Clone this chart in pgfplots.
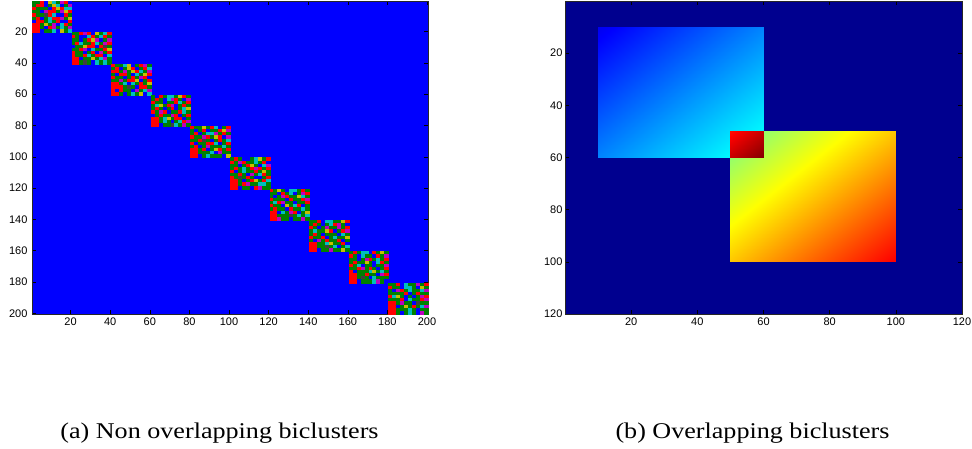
\documentclass[border=0pt]{standalone}
\usepackage{fontspec}
\setmainfont{Liberation Serif}
\newfontfamily\ticksans{Liberation Sans}
\usepackage{pgfplots}
\usepgfplotslibrary{patchplots}
\pgfplotsset{compat=1.18}
\definecolor{jetfloor}{RGB}{0,0,143}
\definecolor{cblue}{RGB}{0,0,255}
\definecolor{cgreen}{RGB}{0,128,0}
\definecolor{cred}{RGB}{255,0,0}
\definecolor{ccyan}{RGB}{0,191,191}
\definecolor{cmag}{RGB}{191,0,191}
\definecolor{cyel}{RGB}{200,190,0}
\definecolor{cgray}{RGB}{64,64,64}

\pgfplotsset{
  % one 20x20 bicluster stored as 10x10 cells of 2x2, listed row by row
  table/blk/.style={header=false, row sep=\\, meta index=0,
    x expr={#1+1.5+2*mod(\coordindex,10)},
    y expr={#1+1.5+2*floor(\coordindex/10)}},
  % each cell is a filled 2x2 square in data units (3.96pt x 3.13pt)
  blk/.style={scatter, only marks, mark=square*, mark size=1.565pt,
    point meta=explicit symbolic,
    mark options={xscale=1.265, line width=0.2pt},
    scatter/classes={
      0={cblue}, 1={cgreen}, 2={cred}, 3={ccyan},
      4={cmag}, 5={cyel}, 6={cgray}}},
  heat/.style={scale only axis, height=313pt, y dir=reverse,
    enlargelimits=false, axis on top,
    tick align=inside, major tick length=4pt,
    tick style={black, line width=0.4pt},
    axis line style={black!85, line width=0.6pt},
    tick label style={font=\ticksans\fontsize{11}{12}\selectfont},
    /pgf/number format/assume math mode=true},
}

\begin{document}
\begin{tikzpicture}
\useasboundingbox (0,0) rectangle (972pt,-449pt);

% (a) ten disjoint biclusters on the diagonal
\begin{axis}[heat, at={(32pt,-1pt)}, anchor=north west, width=396pt,
  xmin=0.5, xmax=200.5, ymin=0.5, ymax=200.5,
  xtick={20,40,...,200}, ytick={20,40,...,200},
  yticklabel style={xshift=-1pt},
  axis background/.style={fill=blue}]
\addplot[blk] table[blk=0]{
1\\1\\2\\0\\5\\3\\1\\4\\2\\0\\
1\\2\\2\\0\\1\\5\\3\\0\\1\\4\\
2\\1\\1\\1\\0\\2\\5\\2\\3\\3\\
1\\1\\0\\4\\2\\2\\1\\4\\5\\2\\
2\\1\\1\\6\\2\\3\\0\\0\\2\\1\\
1\\2\\0\\1\\3\\2\\2\\4\\1\\5\\
0\\2\\2\\1\\3\\1\\2\\0\\0\\2\\
2\\2\\1\\5\\1\\4\\0\\3\\2\\1\\
2\\2\\1\\0\\2\\4\\1\\3\\1\\4\\
2\\2\\0\\1\\1\\3\\0\\5\\1\\3\\
};
\addplot[blk] table[blk=20]{
1\\1\\2\\4\\2\\0\\5\\1\\3\\2\\
2\\1\\0\\0\\3\\2\\1\\3\\2\\1\\
1\\1\\0\\1\\2\\5\\4\\0\\1\\4\\
1\\2\\3\\1\\1\\2\\3\\1\\4\\2\\
0\\1\\1\\5\\2\\2\\0\\2\\6\\1\\
1\\1\\2\\4\\0\\3\\1\\1\\2\\5\\
2\\1\\1\\0\\1\\2\\0\\4\\1\\2\\
2\\1\\1\\2\\3\\1\\2\\2\\0\\3\\
2\\2\\0\\1\\1\\5\\1\\3\\4\\1\\
2\\2\\1\\6\\1\\0\\3\\1\\3\\1\\
};
\addplot[blk] table[blk=40]{
2\\1\\1\\3\\5\\0\\1\\2\\4\\1\\
1\\2\\0\\1\\5\\2\\0\\1\\2\\3\\
2\\2\\1\\4\\1\\5\\2\\3\\1\\4\\
1\\0\\2\\2\\1\\0\\3\\1\\5\\2\\
2\\1\\1\\0\\1\\2\\1\\4\\2\\0\\
1\\1\\4\\1\\2\\2\\5\\0\\1\\2\\
2\\2\\1\\3\\0\\3\\1\\2\\1\\5\\
2\\2\\2\\1\\6\\1\\0\\2\\2\\1\\
2\\0\\2\\1\\1\\0\\4\\1\\3\\4\\
2\\2\\1\\0\\1\\3\\1\\5\\0\\3\\
};
\addplot[blk] table[blk=60]{
1\\0\\2\\1\\3\\3\\1\\5\\2\\1\\
1\\2\\1\\0\\3\\4\\2\\1\\0\\4\\
2\\1\\1\\0\\1\\1\\2\\3\\1\\2\\
1\\3\\5\\1\\2\\4\\0\\1\\2\\1\\
1\\2\\1\\0\\1\\2\\0\\1\\3\\5\\
2\\1\\4\\2\\0\\1\\1\\2\\3\\1\\
0\\1\\2\\1\\1\\4\\2\\0\\1\\2\\
2\\2\\1\\3\\5\\1\\2\\2\\0\\1\\
2\\2\\1\\3\\1\\0\\1\\3\\2\\4\\
2\\2\\0\\1\\1\\6\\3\\1\\4\\1\\
};
\addplot[blk] table[blk=80]{
2\\1\\1\\5\\1\\2\\3\\0\\1\\2\\
1\\0\\1\\2\\0\\1\\1\\2\\5\\4\\
1\\2\\0\\1\\3\\3\\4\\1\\2\\1\\
2\\1\\1\\4\\2\\1\\5\\2\\0\\4\\
1\\1\\2\\6\\1\\0\\1\\2\\1\\3\\
2\\0\\1\\1\\2\\2\\3\\0\\1\\2\\
1\\2\\0\\1\\4\\1\\1\\1\\3\\1\\
2\\2\\1\\2\\0\\1\\5\\2\\1\\2\\
2\\2\\1\\1\\1\\3\\0\\4\\1\\1\\
2\\2\\0\\1\\3\\1\\1\\1\\0\\5\\
};
\addplot[blk] table[blk=100]{
1\\2\\1\\0\\0\\1\\3\\5\\1\\2\\
2\\1\\4\\2\\1\\1\\3\\1\\2\\0\\
1\\1\\0\\1\\2\\5\\1\\0\\3\\4\\
1\\2\\1\\3\\1\\2\\4\\2\\1\\2\\
2\\0\\1\\3\\1\\1\\2\\1\\5\\1\\
1\\1\\2\\1\\0\\4\\1\\3\\2\\1\\
2\\1\\6\\1\\2\\1\\0\\0\\1\\2\\
2\\2\\1\\0\\1\\2\\5\\1\\2\\3\\
2\\2\\1\\2\\4\\1\\1\\3\\3\\1\\
2\\2\\0\\1\\1\\0\\2\\4\\1\\1\\
};
\addplot[blk] table[blk=120]{
2\\1\\5\\1\\0\\3\\3\\1\\2\\1\\
1\\1\\0\\2\\1\\3\\0\\1\\4\\2\\
1\\0\\1\\4\\2\\1\\1\\5\\3\\1\\
2\\1\\1\\1\\0\\2\\1\\1\\2\\4\\
1\\3\\2\\4\\1\\1\\0\\1\\1\\2\\
2\\1\\1\\0\\5\\1\\3\\2\\0\\1\\
1\\2\\1\\1\\0\\2\\1\\1\\3\\1\\
2\\2\\0\\3\\1\\4\\2\\0\\1\\5\\
2\\2\\1\\1\\1\\6\\1\\3\\1\\3\\
2\\2\\4\\1\\1\\0\\1\\1\\4\\1\\
};
\addplot[blk] table[blk=140]{
1\\1\\2\\0\\3\\3\\1\\1\\5\\2\\
1\\2\\1\\0\\1\\3\\2\\4\\1\\0\\
2\\1\\0\\1\\4\\1\\1\\4\\1\\2\\
1\\3\\1\\1\\5\\2\\0\\1\\2\\4\\
1\\2\\1\\0\\1\\1\\1\\0\\3\\1\\
2\\1\\1\\2\\0\\1\\3\\1\\1\\5\\
1\\0\\4\\1\\2\\1\\1\\2\\0\\1\\
2\\2\\1\\1\\3\\5\\1\\1\\2\\0\\
2\\2\\1\\1\\6\\1\\3\\0\\1\\3\\
2\\2\\0\\1\\1\\4\\1\\1\\5\\1\\
};
\addplot[blk] table[blk=160]{
1\\2\\1\\3\\3\\0\\2\\1\\5\\1\\
2\\1\\0\\3\\1\\1\\0\\2\\1\\4\\
1\\1\\0\\1\\4\\2\\1\\3\\1\\2\\
1\\2\\1\\1\\5\\1\\0\\3\\2\\1\\
2\\1\\3\\0\\1\\1\\0\\1\\1\\4\\
1\\1\\2\\4\\1\\2\\1\\0\\1\\2\\
2\\0\\1\\1\\1\\3\\5\\1\\3\\1\\
2\\2\\1\\1\\2\\1\\1\\0\\4\\2\\
2\\2\\1\\6\\1\\0\\3\\1\\1\\1\\
2\\2\\0\\1\\1\\1\\3\\4\\1\\0\\
};
\addplot[blk] table[blk=180]{
1\\1\\2\\0\\3\\1\\1\\4\\1\\2\\
2\\1\\1\\0\\3\\3\\1\\0\\5\\1\\
1\\0\\4\\2\\1\\3\\1\\1\\3\\4\\
1\\1\\1\\1\\2\\0\\1\\2\\1\\1\\
2\\3\\5\\1\\0\\1\\0\\1\\4\\2\\
1\\1\\1\\2\\0\\3\\1\\1\\2\\4\\
2\\2\\1\\4\\1\\1\\0\\6\\1\\1\\
2\\2\\0\\1\\5\\1\\2\\1\\3\\4\\
2\\2\\1\\1\\1\\3\\1\\0\\1\\1\\
2\\2\\1\\0\\1\\3\\1\\0\\4\\1\\
};
\end{axis}

% (b) two biclusters sharing a 10x10 corner, jet colouring
\begin{axis}[heat, at={(565pt,-1pt)}, anchor=north west, width=397pt,
  xmin=0, xmax=120, ymin=0, ymax=120,
  xtick={20,40,...,120}, ytick={20,40,...,120},
  yticklabel style={xshift=1pt},
  axis background/.style={fill=jetfloor},
  colormap/jet, point meta min=0, point meta max=1]
\addplot[patch, patch type=rectangle, shader=interp, point meta=explicit]
  table[meta=c]{
x y c
10 10 0.11
60 10 0.255
60 60 0.40
10 60 0.255
};
\addplot[patch, patch type=rectangle, shader=interp, point meta=explicit]
  table[meta=c]{
x y c
50 50 0.48
100 50 0.68
100 100 0.88
50 100 0.68
};
\addplot[patch, patch type=rectangle, shader=interp, point meta=explicit]
  table[meta=c]{
x y c
50 50 0.86
60 50 0.93
60 60 1.00
50 60 0.93
};
\end{axis}

\node[anchor=base, xscale=1.16, font=\fontsize{22.5}{27}\selectfont]
  at (219.5pt,-438.5pt) {(a) Non overlapping biclusters};
\node[anchor=base, xscale=1.16, font=\fontsize{22.5}{27}\selectfont]
  at (752.5pt,-438.5pt) {(b) Overlapping biclusters};
\end{tikzpicture}
\end{document}
